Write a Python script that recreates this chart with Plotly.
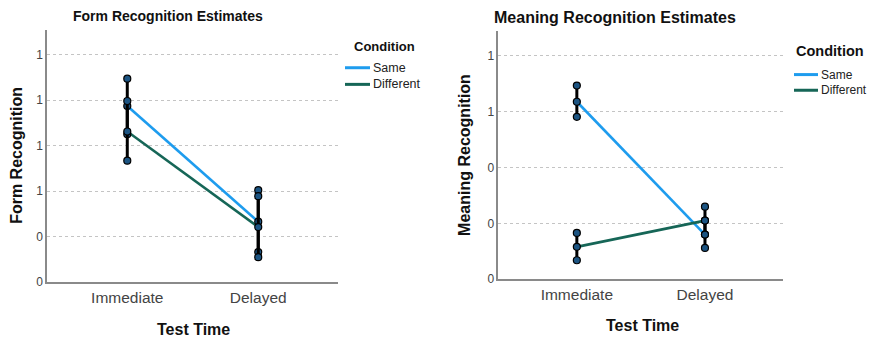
import plotly.graph_objects as go

# ---------------- data ----------------
test_time = ["Immediate", "Delayed"]
conditions = ["Same", "Different"]

form_same_mean = [0.687, 0.433]
form_same_upper = [0.747, 0.502]
form_same_lower = [0.625, 0.366]
form_diff_mean = [0.631, 0.421]
form_diff_upper = [0.698, 0.489]
form_diff_lower = [0.567, 0.355]

mean_same_mean = [0.518, 0.280]
mean_same_upper = [0.547, 0.305]
mean_same_lower = [0.491, 0.256]
mean_diff_mean = [0.258, 0.305]
mean_diff_upper = [0.283, 0.330]
mean_diff_lower = [0.234, 0.280]

form_ticks = [0.3, 0.4, 0.5, 0.6, 0.7, 0.8]
form_ticktext = ["0", "0", "1", "1", "1", "1"]
mean_ticks = [0.2, 0.3, 0.4, 0.5, 0.6]
mean_ticktext = ["0", "0", "0", "1", "1"]

# ---------------- style ----------------
BLUE = "#1e9cee"
GREEN = "#166657"
MARK = "#1c5482"
FONT = "Liberation Sans, Arial, sans-serif"

# page body has an 8px default margin
OFF = 8
W, H = 875 - OFF, 344 - OFF
def px(x):
    return (x - OFF) / W
def py(y):
    return 1 - (y - OFF) / H

fig = go.Figure()

panels = [
    ("x", "y", [(form_same_mean, form_same_upper, form_same_lower, BLUE),
                (form_diff_mean, form_diff_upper, form_diff_lower, GREEN)]),
    ("x2", "y2", [(mean_same_mean, mean_same_upper, mean_same_lower, BLUE),
                  (mean_diff_mean, mean_diff_upper, mean_diff_lower, GREEN)]),
]

xpos = [0, 1]
for xa, ya, series in panels:
    for m, u, l, col in series:
        fig.add_trace(go.Scatter(x=xpos, y=m, mode="lines", xaxis=xa, yaxis=ya,
                                 line=dict(color=col, width=2.6), showlegend=False,
                                 hoverinfo="skip"))
    for m, u, l, col in series:
        fig.add_trace(go.Scatter(
            x=xpos, y=m, mode="markers", xaxis=xa, yaxis=ya, showlegend=False,
            marker=dict(size=7, color=MARK, line=dict(color="black", width=1.2)),
            error_y=dict(type="data", symmetric=False,
                         array=[uu - mm for uu, mm in zip(u, m)],
                         arrayminus=[mm - ll for ll, mm in zip(l, m)],
                         color="black", thickness=3, width=0)))
        fig.add_trace(go.Scatter(
            x=xpos + xpos, y=u + l, mode="markers", xaxis=xa, yaxis=ya, showlegend=False,
            marker=dict(size=7, color=MARK, line=dict(color="black", width=1.2))))

axis_common = dict(showline=True, linecolor="#8a8a8a", linewidth=1.5, zeroline=False,
                   ticks="", mirror=False)
grid = dict(showgrid=True, gridcolor="#c4c4c4", griddash="dot", gridwidth=1,
            tickfont=dict(size=12, color="#444444"))
xt = dict(showgrid=False, tickfont=dict(size=15.5, color="#444444"))

fig.update_layout(
    width=W, height=H,
    margin=dict(l=0, r=0, t=0, b=0),
    paper_bgcolor="white", plot_bgcolor="white",
    showlegend=False,
    font=dict(family=FONT, color="#333333"),
    xaxis=dict(domain=[px(47), px(338)], range=[-0.613, 1.609], tickvals=xpos,
               ticktext=test_time, anchor="y", **xt, **axis_common),
    yaxis=dict(domain=[py(288), py(30)], range=[0.3, 0.855], tickvals=form_ticks,
               ticktext=form_ticktext, anchor="x", **grid, **axis_common),
    xaxis2=dict(domain=[px(498.3), px(783)], range=[-0.613, 1.609], tickvals=xpos,
                ticktext=test_time, anchor="y2", **xt, **axis_common),
    yaxis2=dict(domain=[py(285), py(31)], range=[0.2, 0.6456], tickvals=mean_ticks,
                ticktext=mean_ticktext, anchor="x2", **grid, **axis_common),
)

ann = []
def text(x, y, s, size, bold=True, color="#111111", angle=0, xanchor="center"):
    ann.append(dict(x=px(x), y=py(y), xref="paper", yref="paper",
                    text=f"<b>{s}</b>" if bold else s, showarrow=False,
                    font=dict(size=size, color=color, family=FONT),
                    textangle=angle, xanchor=xanchor, yanchor="middle"))

# titles
text(168, 16, "Form Recognition Estimates", 14)
text(615, 18, "Meaning Recognition Estimates", 16)
# axis titles
text(17, 159, "Form Recognition", 16, angle=-90)
text(465, 158, "Meaning Recognition", 16, angle=-90)
text(193, 336, "Test Time", 16)
text(642, 332, "Test Time", 16)

# legends
shapes = []
def legend(x0, tx, title_y, title_size, ys, item_size, line_len):
    text(tx, title_y, "Condition", title_size, xanchor="left")
    for (lab, col), yy in zip(zip(conditions, [BLUE, GREEN]), ys):
        shapes.append(dict(type="line", xref="paper", yref="paper",
                           x0=px(x0), x1=px(x0 + line_len),
                           y0=py(yy), y1=py(yy),
                           line=dict(color=col, width=3)))
        text(x0 + line_len + 1, yy, lab, item_size, bold=False, color="#222222",
             xanchor="left")

legend(345, 352, 47, 13, [69, 86], 12.5, 25)
legend(794, 794, 52, 14.5, [76, 92], 12, 24)

fig.update_layout(annotations=ann, shapes=shapes)
fig.write_html("out.html")
